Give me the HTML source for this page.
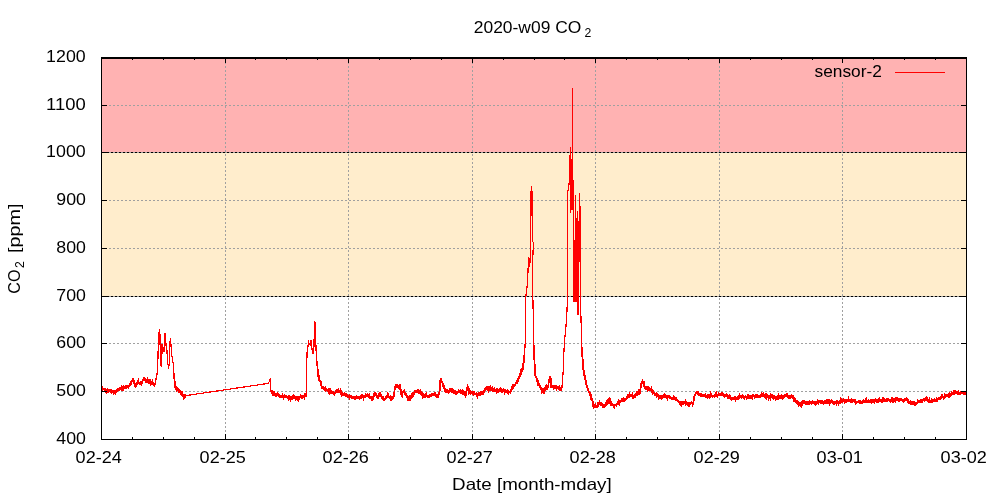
<!DOCTYPE html>
<html><head><meta charset="utf-8"><title>2020-w09 CO2</title>
<style>html,body{margin:0;padding:0;background:#fff;width:1000px;height:500px;overflow:hidden}svg{display:block;will-change:transform}</style>
</head><body>
<svg width="1000" height="500" viewBox="0 0 1000 500"><rect x="101" y="57" width="866" height="96" fill="#ffb2b2"/><rect x="101" y="153" width="866" height="143" fill="#ffedcc"/><g stroke="#a0a0a0" stroke-width="1" stroke-dasharray="2,2" shape-rendering="crispEdges"><line x1="109" y1="105.5" x2="959" y2="105.5"/><line x1="109" y1="152.5" x2="959" y2="152.5"/><line x1="109" y1="200.5" x2="959" y2="200.5"/><line x1="109" y1="248.5" x2="959" y2="248.5"/><line x1="109" y1="296.5" x2="959" y2="296.5"/><line x1="109" y1="343.5" x2="959" y2="343.5"/><line x1="109" y1="391.5" x2="959" y2="391.5"/><line x1="225.5" y1="62" x2="225.5" y2="432"/><line x1="348.5" y1="62" x2="348.5" y2="432"/><line x1="472.5" y1="62" x2="472.5" y2="432"/><line x1="595.5" y1="62" x2="595.5" y2="432"/><line x1="719.5" y1="62" x2="719.5" y2="432"/><line x1="842.5" y1="82" x2="842.5" y2="432"/></g><g stroke="#000" stroke-width="1" stroke-dasharray="2,2" shape-rendering="crispEdges"><line x1="107" y1="152.5" x2="961" y2="152.5"/><line x1="107" y1="296.5" x2="961" y2="296.5"/></g><polyline fill="none" stroke="#ff0000" stroke-width="1.8" stroke-linejoin="miter" shape-rendering="crispEdges" points="101.50,388.17 101.80,387.73 102.10,389.71 102.40,387.81 102.70,389.66 103.00,389.23 103.30,388.30 103.60,390.10 103.90,388.59 104.20,390.20 104.50,389.06 104.80,389.29 105.10,390.64 105.40,392.25 105.70,389.87 106.00,390.39 106.30,392.00 106.60,393.30 106.90,392.13 107.20,391.42 107.50,393.36 107.80,389.85 108.10,392.62 108.40,390.42 108.70,389.74 109.00,389.49 109.30,390.02 109.60,391.69 109.90,389.45 110.20,391.05 110.50,391.41 110.80,390.61 111.10,391.40 111.40,389.81 111.70,389.95 112.00,390.63 112.30,392.50 112.60,391.61 112.90,391.16 113.20,392.10 113.50,391.58 113.80,390.98 114.10,392.72 114.40,392.34 114.70,390.66 115.00,391.81 115.30,391.59 115.60,392.81 115.90,392.24 116.20,390.49 116.50,392.75 116.80,389.43 117.10,390.28 117.40,391.28 117.70,388.87 118.00,389.86 118.30,388.02 118.60,390.06 118.90,390.18 119.20,389.26 119.50,390.13 119.80,387.96 120.10,389.22 120.40,388.75 120.70,388.59 121.00,388.04 121.30,389.31 121.60,389.58 121.90,387.78 122.20,388.35 122.50,386.07 122.80,388.27 123.10,387.97 123.40,389.20 123.70,388.61 124.00,386.71 124.30,387.11 124.60,388.16 124.90,385.87 125.20,387.48 125.50,386.46 125.80,386.31 126.10,386.13 126.40,388.72 126.70,386.45 127.00,386.66 127.30,386.83 127.60,388.22 127.90,385.03 128.20,386.01 128.50,386.03 128.80,386.88 129.10,386.31 129.40,386.13 129.70,383.67 130.00,383.80 130.30,383.24 130.60,384.78 130.90,384.69 131.20,381.43 131.50,381.16 131.80,381.01 132.10,380.66 132.40,381.26 132.70,381.36 133.00,379.90 133.30,378.69 133.60,379.91 133.90,380.76 134.20,382.51 134.50,384.93 134.80,384.89 135.10,385.16 135.40,386.42 135.70,386.09 136.00,383.30 136.30,385.80 136.60,384.83 136.90,384.62 137.20,383.80 137.50,381.79 137.80,381.94 138.10,381.32 138.40,383.68 138.70,382.07 139.00,382.54 139.30,383.50 139.60,383.35 139.90,383.79 140.20,382.56 140.50,382.17 140.80,382.51 141.10,382.13 141.40,382.88 141.70,381.46 142.00,384.31 142.30,382.80 142.60,380.35 142.90,379.96 143.20,379.53 143.50,378.82 143.80,377.18 144.10,379.03 144.40,378.78 144.70,378.68 145.00,380.54 145.30,380.91 145.60,380.80 145.90,381.50 146.20,381.05 146.50,382.91 146.80,380.34 147.10,379.67 147.40,382.84 147.70,381.15 148.00,379.61 148.30,380.87 148.60,378.94 148.90,380.89 149.20,382.65 149.50,382.37 149.80,381.91 150.10,380.64 150.40,381.62 150.70,381.50 151.00,384.28 151.30,384.02 151.60,385.15 151.90,383.07 152.20,382.23 152.50,383.89 152.80,384.05 153.10,383.47 153.40,383.90 153.70,384.55 154.00,384.86 154.30,383.62 154.60,385.09 154.90,384.59 155.20,383.50 155.50,383.57 155.60,385.30"/><polyline fill="none" stroke="#ff0000" stroke-width="1.8" stroke-linejoin="miter" shape-rendering="crispEdges" points="174.00,374.50 174.30,377.21 174.60,380.66 174.90,384.10 175.20,386.11 175.50,385.34 175.80,388.16 176.10,389.40 176.40,389.84 176.70,388.01 177.00,387.79 177.30,388.12 177.60,388.31 177.90,388.63 178.20,390.42 178.50,391.71 178.80,391.78 179.10,390.77 179.40,391.68 179.70,392.49 180.00,390.21 180.30,392.69 180.60,393.99 180.90,393.94 181.20,394.24 181.50,393.67 181.80,393.00 182.10,395.60 182.40,394.27 182.70,396.22 183.00,397.09 183.30,395.28 183.60,395.56 183.90,397.79 184.20,397.25 184.50,395.51 184.80,395.30 185.10,395.32 185.40,397.98 185.50,396.50"/><polyline fill="none" stroke="#ff0000" stroke-width="1.8" stroke-linejoin="miter" shape-rendering="crispEdges" points="271.00,391.80 271.50,392.10 271.80,390.09 272.10,392.90 272.40,393.81 272.70,393.01 273.00,392.26 273.30,393.34 273.60,392.19 273.90,392.13 274.20,395.77 274.50,394.73 274.80,394.40 275.10,395.97 275.40,394.29 275.70,395.98 276.00,395.92 276.30,393.82 276.60,394.08 276.90,394.34 277.20,394.27 277.50,395.62 277.80,394.56 278.10,395.25 278.40,394.32 278.70,397.24 279.00,395.35 279.30,395.84 279.60,396.40 279.90,397.67 280.20,396.04 280.50,397.94 280.80,396.56 281.10,396.78 281.40,396.86 281.70,395.15 282.00,396.78 282.30,395.86 282.60,395.21 282.90,398.08 283.20,395.82 283.50,396.90 283.80,397.81 284.10,397.20 284.40,396.37 284.70,397.07 285.00,397.20 285.30,398.02 285.60,395.58 285.90,397.22 286.20,396.09 286.50,396.20 286.80,397.98 287.10,397.03 287.40,397.22 287.70,397.94 288.00,398.48 288.30,396.80 288.60,397.41 288.90,397.02 289.20,397.04 289.50,397.69 289.80,396.83 290.10,397.14 290.40,396.99 290.70,398.71 291.00,397.88 291.30,398.57 291.60,398.86 291.90,396.45 292.20,397.58 292.50,399.01 292.80,398.69 293.10,396.21 293.40,396.20 293.70,397.41 294.00,396.13 294.30,396.78 294.60,396.23 294.90,398.43 295.20,398.89 295.50,399.35 295.80,396.72 296.10,398.76 296.40,398.50 296.70,396.57 297.00,399.18 297.30,399.42 297.60,396.67 297.90,399.25 298.20,397.19 298.50,397.45 298.80,399.20 299.10,398.58 299.40,396.10 299.70,397.01 300.00,397.26 300.30,396.56 300.60,395.98 300.90,396.37 301.20,397.76 301.50,395.17 301.80,397.03 302.10,396.57 302.40,394.99 302.70,396.05 303.00,397.05 303.30,396.58 303.60,394.91 303.90,398.17 304.20,397.40 304.50,398.01 304.80,394.84 305.10,395.36 305.40,394.50 305.70,397.11 306.00,395.23 306.30,396.00"/><polyline fill="none" stroke="#ff0000" stroke-width="1.8" stroke-linejoin="miter" shape-rendering="crispEdges" points="317.00,362.00 317.30,364.67 317.60,369.15 317.90,374.34 318.20,375.95 318.50,375.13 318.80,375.94 319.10,379.91 319.40,379.85 319.70,381.52 320.00,380.52 320.30,381.16 320.60,384.18 320.90,383.98 321.20,383.46 321.50,387.33 321.80,386.98 322.10,388.16 322.40,385.80 322.70,388.81 323.00,386.19 323.30,389.28 323.60,388.03 323.90,387.85 324.20,388.84 324.50,390.41 324.80,388.26 325.10,387.99 325.40,389.65 325.70,388.83 326.00,388.59 326.30,388.93 326.60,388.68 326.90,389.38 327.20,389.92 327.50,390.05 327.80,391.83 328.10,390.29 328.40,391.20 328.70,390.19 329.00,390.95 329.30,389.92 329.60,390.90 329.90,390.21 330.20,392.89 330.50,392.31 330.80,391.08 331.10,392.18 331.40,393.91 331.70,391.01 332.00,393.65 332.30,392.33 332.60,392.63 332.90,393.93 333.20,392.42 333.50,392.90 333.80,393.63 334.10,394.70 334.40,392.27 334.70,393.92 335.00,393.34 335.30,392.97 335.60,392.02 335.90,391.69 336.20,390.52 336.50,390.67 336.80,390.33 337.10,392.63 337.40,390.76 337.70,390.31 338.00,389.90 338.30,392.51 338.60,392.49 338.90,391.65 339.20,390.41 339.50,390.57 339.80,391.06 340.10,391.95 340.40,391.17 340.70,392.50 341.00,392.15 341.30,394.96 341.60,395.30 341.90,394.07 342.20,393.18 342.50,395.93 342.80,393.71 343.10,394.03 343.40,392.90 343.70,394.42 344.00,394.91 344.30,395.16 344.60,394.22 344.90,395.47 345.20,393.82 345.50,394.90 345.80,394.42 346.10,395.64 346.40,394.35 346.70,394.28 347.00,395.30 347.30,395.04 347.60,396.31 347.90,396.11 348.20,396.90 348.50,396.57 348.80,396.78 349.10,397.36 349.40,395.60 349.70,395.37 350.00,397.75 350.30,394.84 350.60,397.01 350.90,396.82 351.20,394.76 351.50,397.71 351.80,398.01 352.10,397.16 352.40,397.64 352.70,398.02 353.00,395.70 353.30,397.19 353.60,397.22 353.90,398.51 354.20,398.50 354.50,398.68 354.80,397.90 355.10,399.11 355.40,398.46 355.70,398.60 356.00,397.03 356.30,396.26 356.60,396.58 356.90,397.35 357.20,396.38 357.50,398.96 357.80,397.91 358.10,398.11 358.40,398.05 358.70,398.20 359.00,397.46 359.30,395.66 359.60,398.47 359.90,398.24 360.20,397.31 360.50,397.38 360.80,397.77 361.10,395.59 361.40,397.95 361.70,396.16 362.00,395.47 362.30,396.11 362.60,397.73 362.90,395.79 363.20,397.66 363.50,398.46 363.80,396.68 364.10,396.23 364.40,396.52 364.70,397.21 365.00,397.46 365.30,396.87 365.60,396.91 365.90,394.83 366.20,395.03 366.50,395.36 366.80,397.08 367.10,395.45 367.40,396.34 367.70,394.29 368.00,394.42 368.30,395.36 368.60,397.01 368.90,397.28 369.20,397.41 369.50,396.22 369.80,397.23 370.10,397.24 370.40,397.44 370.70,396.38 371.00,399.37 371.30,397.06 371.60,400.06 371.90,400.11 372.20,396.56 372.50,397.70 372.80,398.55 373.10,398.64 373.40,396.32 373.70,395.22 374.00,394.56 374.30,396.75 374.60,393.66 374.90,394.54 375.20,392.51 375.50,393.44 375.80,395.18 376.10,392.75 376.40,395.75 376.70,395.16 377.00,397.04 377.30,396.91 377.60,395.73 377.90,398.66 378.20,397.02 378.50,394.86 378.80,394.28 379.10,395.54 379.40,394.89 379.70,393.85 380.00,393.33 380.30,394.40 380.60,394.64 380.90,396.86 381.20,394.18 381.50,397.22 381.80,397.87 382.10,395.62 382.40,398.86 382.70,398.43 383.00,399.45 383.30,397.58 383.60,398.21 383.90,398.63 384.20,401.15 384.50,400.01 384.80,399.03 385.10,398.87 385.40,397.92 385.70,396.71 386.00,396.50 386.30,398.74 386.60,396.36 386.90,398.30 387.20,395.43 387.50,395.09 387.80,395.57 388.10,394.02 388.40,394.74 388.70,397.14 389.00,397.18 389.30,397.22 389.60,396.87 389.90,398.19 390.20,398.59 390.50,397.48 390.80,398.39 391.10,396.28 391.40,399.04 391.70,398.32 392.00,399.71 392.30,399.62 392.60,398.03 392.90,396.58 393.20,399.14 393.50,395.66 393.80,396.30 394.10,395.24 394.40,392.07 394.70,389.46 395.00,388.85 395.30,386.17 395.60,387.49 395.90,386.12 396.20,386.94 396.50,386.25 396.80,385.34 397.10,385.22 397.40,385.28 397.70,387.69 398.00,386.12 398.30,385.03 398.60,387.60 398.90,388.12 399.20,386.35 399.50,385.44 399.80,385.83 400.10,385.66 400.40,388.13 400.70,389.48 401.00,392.26 401.30,394.58 401.60,395.92 401.90,396.26 402.20,394.97 402.50,392.95 402.80,392.16 403.10,391.75 403.40,391.21 403.70,391.44 404.00,390.82 404.30,391.97 404.60,394.83 404.90,392.18 405.20,393.91 405.50,394.74 405.80,396.11 406.10,394.38 406.40,395.18 406.70,395.69 407.00,396.84 407.30,397.61 407.60,400.03 407.90,400.26 408.20,400.34 408.50,396.98 408.80,396.72 409.10,398.85 409.40,399.22 409.70,397.40 410.00,397.51 410.30,395.10 410.60,396.21 410.90,397.84 411.20,397.17 411.50,396.98 411.80,397.07 412.10,394.11 412.40,393.26 412.70,393.07 413.00,394.05 413.30,394.27 413.60,394.86 413.90,393.71 414.20,393.10 414.50,393.17 414.80,391.71 415.10,391.70 415.40,389.77 415.70,392.48 416.00,390.54 416.30,393.05 416.60,392.10 416.90,390.91 417.20,390.31 417.50,390.79 417.80,392.22 418.10,392.48 418.40,390.40 418.70,390.29 419.00,391.96 419.30,392.21 419.60,391.55 419.90,390.99 420.20,392.56 420.50,390.74 420.80,392.09 421.10,392.96 421.40,395.05 421.70,394.22 422.00,395.38 422.30,394.21 422.60,393.65 422.90,393.99 423.20,396.86 423.50,396.24 423.80,394.93 424.10,393.93 424.40,395.67 424.70,396.34 425.00,395.45 425.30,394.90 425.60,396.40 425.90,397.36 426.20,394.88 426.50,394.21 426.80,395.34 427.10,395.66 427.40,396.64 427.70,394.92 428.00,397.11 428.30,396.93 428.60,396.12 428.90,395.07 429.20,397.85 429.50,395.51 429.80,397.25 430.10,394.98 430.40,394.80 430.70,396.59 431.00,394.76 431.30,396.98 431.60,395.18 431.90,393.92 432.20,393.90 432.50,394.45 432.80,395.20 433.10,396.07 433.40,393.03 433.70,393.77 434.00,392.97 434.30,395.56 434.60,392.64 434.90,392.52 435.20,392.75 435.50,394.15 435.80,396.17 436.10,396.31 436.40,395.97 436.70,397.12 437.00,397.09 437.30,395.12 437.60,394.80 437.90,397.70 438.20,396.55 438.50,393.18 438.80,394.66 439.10,392.83 439.40,392.01 439.70,391.06 440.00,387.06 440.30,381.74 440.60,378.01 440.90,378.92 441.20,381.75 441.50,379.41 441.80,383.09 442.10,381.02 442.40,382.21 442.70,384.54 443.00,385.36 443.30,384.86 443.60,384.38 443.90,386.80 444.20,387.34 444.50,390.21 444.80,388.49 445.10,390.01 445.40,392.33 445.70,389.36 446.00,390.88 446.30,392.47 446.60,392.46 446.90,390.00 447.20,390.13 447.50,390.38 447.80,393.38 448.10,390.79 448.40,392.36 448.70,392.70 449.00,390.49 449.30,390.05 449.60,392.31 449.90,390.89 450.20,389.41 450.50,390.85 450.80,389.21 451.10,388.86 451.40,387.94 451.70,390.83 452.00,391.60 452.30,390.77 452.60,392.07 452.90,388.95 453.20,389.89 453.50,390.95 453.80,392.87 454.10,393.05 454.40,391.19 454.70,390.89 455.00,391.72 455.30,392.14 455.60,393.89 455.90,391.40 456.20,393.65 456.50,393.36 456.80,393.60 457.10,393.36 457.40,392.71 457.70,391.64 458.00,391.55 458.30,391.64 458.60,393.10 458.90,390.50 459.20,390.87 459.50,392.81 459.80,390.93 460.10,390.21 460.40,390.04 460.70,391.85 461.00,390.97 461.30,393.27 461.60,392.86 461.90,393.18 462.20,390.75 462.50,390.40 462.80,390.75 463.10,392.49 463.40,393.56 463.70,392.91 464.00,392.44 464.30,393.40 464.60,394.43 464.90,394.93 465.20,395.49 465.50,396.15 465.80,394.73 466.10,391.47 466.40,392.76 466.70,389.49 467.00,389.17 467.30,387.18 467.60,388.38 467.90,386.92 468.20,387.57 468.50,388.04 468.80,388.19 469.10,391.30 469.40,390.68 469.70,390.25 470.00,390.99 470.30,393.61 470.60,392.08 470.90,391.16 471.20,393.31 471.50,392.83 471.80,394.12 472.10,390.99 472.40,392.41 472.70,393.72 473.00,393.88 473.30,394.22 473.60,391.15 473.90,392.13 474.20,391.58 474.50,391.91 474.80,394.80 475.10,393.47 475.40,394.90 475.70,393.13 476.00,395.14 476.30,393.87 476.60,393.42 476.90,395.52 477.20,396.19 477.50,393.15 477.80,394.89 478.10,394.96 478.40,393.49 478.70,394.01 479.00,393.18 479.30,393.38 479.60,393.54 479.90,394.76 480.20,394.91 480.50,393.24 480.80,392.49 481.10,393.57 481.40,394.77 481.70,392.94 482.00,393.34 482.30,392.89 482.60,394.96 482.90,393.62 483.20,391.43 483.50,391.11 483.80,391.72 484.10,391.83 484.40,391.70 484.70,389.28 485.00,389.09 485.30,390.55 485.60,389.08 485.90,388.17 486.20,387.81 486.50,389.68 486.80,386.92 487.10,387.99 487.40,387.39 487.70,387.75 488.00,389.51 488.30,390.14 488.60,388.01 488.90,387.56 489.20,389.62 489.50,387.88 489.80,387.32 490.10,390.70 490.40,389.13 490.70,390.70 491.00,389.36 491.30,391.11 491.60,389.62 491.90,388.58 492.20,388.07 492.50,390.04 492.80,390.39 493.10,391.39 493.40,388.46 493.70,390.41 494.00,389.54 494.30,390.05 494.60,388.79 494.90,389.31 495.20,390.20 495.50,391.68 495.80,388.77 496.10,390.18 496.40,391.34 496.70,391.95 497.00,389.21 497.30,388.99 497.60,391.96 497.90,392.10 498.20,390.36 498.50,388.84 498.80,392.01 499.10,390.11 499.40,392.00 499.70,391.00 500.00,391.77 500.30,389.41 500.60,391.69 500.90,389.69 501.20,390.38 501.50,392.00 501.80,391.97 502.10,389.67 502.40,389.83 502.70,390.51 503.00,390.96 503.30,390.51 503.60,389.60 503.90,390.08 504.20,391.83 504.50,392.48 504.80,389.43 505.10,391.35 505.40,392.14 505.70,389.64 506.00,392.60 506.30,390.10 506.60,391.92 506.90,391.82 507.20,392.19 507.50,391.12 507.80,391.61 508.10,392.28 508.40,391.80 508.70,392.73 509.00,392.05 509.30,392.11 509.60,390.70 509.90,392.93 510.20,391.86 510.50,390.35 510.80,391.65 511.10,391.11 511.40,389.35 511.70,387.75 512.00,388.20 512.30,386.54 512.60,386.26 512.90,387.00 513.20,385.43 513.50,386.34 513.80,386.24 514.10,384.20 514.40,385.99 514.70,383.65 515.00,385.64 515.30,385.45 515.60,384.14 515.90,382.15 516.20,383.41 516.50,382.21 516.80,383.52 517.10,379.84 517.40,381.69 517.70,381.44 518.00,379.74 518.30,379.28 518.60,376.30 518.90,378.38 519.20,375.97 519.50,377.04 519.80,376.30 520.10,372.99 520.40,374.64 520.70,374.55 521.00,370.84 521.30,371.26 521.60,372.12 521.90,369.12 522.20,370.43 522.50,366.84 522.80,367.44 523.10,363.67 523.40,363.01 523.70,362.26 524.00,357.45 524.30,355.40 524.60,354.00"/><polyline fill="none" stroke="#ff0000" stroke-width="1.8" stroke-linejoin="miter" shape-rendering="crispEdges" points="533.90,345.00 533.90,348.02 534.20,357.35 534.50,361.53 534.80,367.26 535.10,372.38 535.40,376.17 535.70,376.25 536.00,378.02 536.30,376.41 536.60,379.63 536.90,378.21 537.20,380.71 537.50,381.69 537.80,381.30 538.10,383.74 538.40,383.20 538.70,383.89 539.00,385.58 539.30,383.38 539.60,387.17 539.90,386.47 540.20,386.18 540.50,388.17 540.80,386.79 541.10,389.95 541.40,389.00 541.70,388.76 542.00,390.75 542.30,390.13 542.60,389.72 542.90,392.30 543.20,390.33 543.50,393.65 543.80,390.94 544.10,391.65 544.40,392.22 544.70,390.11 545.00,389.71 545.30,387.78 545.60,385.98 545.90,385.42 546.20,385.16 546.50,387.02 546.80,386.96 547.10,387.85 547.40,389.82 547.70,387.68 548.00,386.52 548.30,386.55 548.60,382.78 548.90,381.21 549.20,381.03 549.50,378.78 549.80,378.34 550.10,376.51 550.40,376.45 550.70,378.82 551.00,381.64 551.30,386.02 551.60,385.71 551.90,384.71 552.20,387.82 552.50,385.55 552.80,385.44 553.10,385.47 553.40,387.65 553.70,388.71 554.00,388.62 554.30,387.16 554.60,386.57 554.90,385.57 555.20,387.76 555.50,387.37 555.80,386.52 556.10,387.55 556.40,386.91 556.70,388.76 557.00,388.11 557.30,386.45 557.60,388.89 557.90,385.88 558.20,387.71 558.50,387.49 558.80,387.12 559.10,386.71 559.40,389.54 559.70,387.01 560.00,389.18 560.30,390.59 560.60,387.71 560.90,387.92 561.20,388.79 561.50,387.53 561.80,387.11 562.00,386.00"/><polyline fill="none" stroke="#ff0000" stroke-width="1.8" stroke-linejoin="miter" shape-rendering="crispEdges" points="582.00,350.00 582.40,357.13 582.70,360.08 583.00,365.81 583.30,369.68 583.60,369.97 583.90,374.20 584.20,375.02 584.50,375.98 584.80,374.62 585.10,378.84 585.40,380.08 585.70,380.87 586.00,383.67 586.30,384.43 586.60,385.41 586.90,386.34 587.20,387.28 587.50,387.06 587.80,388.61 588.10,390.58 588.40,390.86 588.70,391.88 589.00,391.88 589.30,390.76 589.60,392.27 589.90,392.50 590.20,394.77 590.50,394.82 590.80,394.89 591.10,397.24 591.40,399.41 591.70,397.78 592.00,401.37 592.30,399.45 592.60,401.54 592.90,402.65 593.20,405.68 593.50,407.23 593.80,406.59 594.10,405.15 594.40,407.22 594.70,405.31 595.00,405.06 595.30,407.54 595.60,406.62 595.90,406.81 596.20,406.46 596.50,407.34 596.80,405.26 597.10,406.34 597.40,405.58 597.70,405.90 598.00,404.14 598.30,404.93 598.60,404.12 598.90,402.92 599.20,402.33 599.50,403.72 599.80,402.01 600.10,405.26 600.40,402.75 600.70,402.58 601.00,403.12 601.30,406.33 601.60,404.47 601.90,403.99 602.20,403.84 602.50,404.13 602.80,406.73 603.10,406.62 603.40,406.64 603.70,406.59 604.00,403.97 604.30,405.66 604.60,404.64 604.90,406.04 605.20,405.75 605.50,405.71 605.80,402.44 606.10,405.02 606.40,404.89 606.70,404.70 607.00,401.39 607.30,401.44 607.60,400.80 607.90,400.12 608.20,402.45 608.50,401.72 608.80,400.48 609.10,400.57 609.40,399.27 609.70,398.73 610.00,401.36 610.30,403.56 610.60,405.98 610.90,404.03 611.20,404.47 611.50,404.89 611.80,403.48 612.10,404.36 612.40,404.49 612.70,406.09 613.00,404.87 613.30,404.74 613.60,407.10 613.90,405.48 614.20,406.76 614.50,405.96 614.80,403.89 615.10,405.20 615.40,405.04 615.70,406.00 616.00,404.22 616.30,405.25 616.60,404.40 616.90,403.00 617.20,405.07 617.50,402.04 617.80,404.42 618.10,401.83 618.40,400.97 618.70,401.46 619.00,403.29 619.30,403.88 619.60,400.19 619.90,401.75 620.20,401.57 620.50,402.48 620.80,400.09 621.10,401.02 621.40,400.30 621.70,401.86 622.00,399.61 622.30,401.89 622.60,399.32 622.90,398.89 623.20,400.44 623.50,399.57 623.80,398.10 624.10,399.92 624.40,397.84 624.70,400.31 625.00,399.91 625.30,400.16 625.60,399.51 625.90,398.38 626.20,398.24 626.50,397.92 626.80,399.41 627.10,396.21 627.40,398.80 627.70,395.39 628.00,395.74 628.30,395.65 628.60,397.64 628.90,395.90 629.20,395.17 629.50,396.80 629.80,394.51 630.10,395.38 630.40,395.68 630.70,396.53 631.00,396.58 631.30,396.24 631.60,395.22 631.90,395.19 632.20,394.63 632.50,397.15 632.80,396.55 633.10,396.87 633.40,394.81 633.70,395.78 634.00,396.98 634.30,396.29 634.60,394.65 634.90,395.86 635.20,397.39 635.50,394.91 635.80,394.29 636.10,394.24 636.40,395.23 636.70,395.29 637.00,392.36 637.30,391.91 637.60,391.79 637.90,391.80 638.20,392.58 638.50,391.35 638.80,392.03 639.10,391.61 639.40,394.51 639.70,393.70 640.00,391.52 640.30,393.71 640.60,387.77 640.90,385.93 641.20,385.24 641.50,382.76 641.80,382.84 642.10,382.07 642.40,381.51 642.70,383.40 643.00,381.78 643.30,382.58 643.60,383.93 643.90,383.36 644.20,385.37 644.50,387.48 644.80,387.83 645.10,387.62 645.40,388.14 645.70,387.58 646.00,386.48 646.30,388.19 646.60,387.52 646.90,388.78 647.20,389.44 647.50,387.76 647.80,388.33 648.10,389.01 648.40,387.88 648.70,387.24 649.00,389.08 649.30,389.71 649.60,389.39 649.90,389.18 650.20,389.79 650.50,389.23 650.80,389.15 651.10,388.53 651.40,388.09 651.70,389.61 652.00,388.75 652.30,390.96 652.60,393.32 652.90,393.81 653.20,393.64 653.50,392.40 653.80,393.15 654.10,393.40 654.40,394.12 654.70,393.49 655.00,394.57 655.30,395.62 655.60,393.06 655.90,394.88 656.20,395.46 656.50,394.19 656.80,394.68 657.10,396.58 657.40,393.40 657.70,395.42 658.00,394.25 658.30,396.68 658.60,397.45 658.90,396.14 659.20,394.83 659.50,396.74 659.80,396.81 660.10,397.65 660.40,397.11 660.70,397.68 661.00,398.28 661.30,397.10 661.60,396.63 661.90,398.49 662.20,395.76 662.50,397.39 662.80,396.26 663.10,397.52 663.40,395.14 663.70,398.17 664.00,395.83 664.30,394.68 664.60,395.39 664.90,395.76 665.20,394.30 665.50,395.74 665.80,395.85 666.10,396.95 666.40,395.80 666.70,395.59 667.00,395.54 667.30,397.50 667.60,398.32 667.90,396.93 668.20,395.92 668.50,398.12 668.80,396.74 669.10,396.19 669.40,395.97 669.70,398.37 670.00,398.56 670.30,398.01 670.60,397.49 670.90,397.90 671.20,396.76 671.50,399.49 671.80,397.37 672.10,398.47 672.40,399.20 672.70,399.26 673.00,398.09 673.30,397.53 673.60,398.52 673.90,397.12 674.20,399.87 674.50,398.34 674.80,400.33 675.10,398.43 675.40,399.02 675.70,398.78 676.00,399.60 676.30,398.94 676.60,398.48 676.90,401.27 677.20,399.88 677.50,399.95 677.80,400.35 678.10,401.19 678.40,401.21 678.70,402.16 679.00,402.44 679.30,401.57 679.60,403.81 679.90,403.74 680.20,401.07 680.50,404.05 680.80,404.53 681.10,404.22 681.40,401.91 681.70,404.39 682.00,403.68 682.30,401.45 682.60,401.44 682.90,404.83 683.20,403.76 683.50,402.30 683.80,401.77 684.10,401.91 684.40,402.24 684.70,404.19 685.00,402.65 685.30,401.95 685.60,404.65 685.90,404.25 686.20,402.00 686.50,404.61 686.80,403.59 687.10,404.23 687.40,403.89 687.70,404.76 688.00,404.44 688.30,404.68 688.60,402.43 688.90,404.27 689.20,403.75 689.50,404.57 689.80,403.54 690.10,405.20 690.40,404.08 690.70,403.09 691.00,403.04 691.30,402.76 691.60,404.10 691.90,402.59 692.20,404.12 692.50,403.02 692.80,404.33 693.10,403.69 693.40,401.74 693.70,400.81 694.00,395.62 694.30,397.08 694.60,395.28 694.90,395.18 695.20,395.10 695.50,395.28 695.80,393.15 696.10,392.86 696.40,394.36 696.70,390.94 697.00,393.16 697.30,393.36 697.60,391.37 697.90,393.66 698.20,394.12 698.50,395.22 698.80,393.26 699.10,395.80 699.40,394.30 699.70,394.41 700.00,396.10 700.30,393.14 700.60,395.67 700.90,395.40 701.20,394.43 701.50,396.37 701.80,394.65 702.10,395.10 702.40,395.35 702.70,396.29 703.00,394.34 703.30,395.21 703.60,395.22 703.90,395.76 704.20,396.80 704.50,394.94 704.80,396.93 705.10,395.47 705.40,395.89 705.70,395.12 706.00,396.02 706.30,397.68 706.60,396.50 706.90,396.96 707.20,395.27 707.50,395.19 707.80,395.10 708.10,396.10 708.40,396.25 708.70,396.75 709.00,394.04 709.30,396.47 709.60,397.03 709.90,395.77 710.20,393.96 710.50,394.83 710.80,393.74 711.10,394.37 711.40,396.98 711.70,395.82 712.00,395.97 712.30,396.38 712.60,396.75 712.90,395.61 713.20,395.57 713.50,395.54 713.80,395.73 714.10,395.31 714.40,395.55 714.70,393.80 715.00,395.38 715.30,394.56 715.60,395.60 715.90,393.15 716.20,393.38 716.50,392.80 716.80,395.39 717.10,395.90 717.40,394.98 717.70,393.96 718.00,395.60 718.30,395.48 718.60,394.68 718.90,393.60 719.20,393.77 719.50,394.21 719.80,393.85 720.10,394.26 720.40,395.03 720.70,396.09 721.00,392.94 721.30,394.79 721.60,392.90 721.90,393.20 722.20,395.70 722.50,394.86 722.80,396.11 723.10,394.52 723.40,393.08 723.70,394.54 724.00,395.40 724.30,396.76 724.60,397.03 724.90,395.33 725.20,395.22 725.50,394.22 725.80,396.29 726.10,394.85 726.40,394.75 726.70,394.41 727.00,394.52 727.30,397.11 727.60,395.24 727.90,398.43 728.20,395.42 728.50,398.38 728.80,395.86 729.10,395.61 729.40,398.29 729.70,396.72 730.00,398.64 730.30,396.82 730.60,396.48 730.90,399.24 731.20,399.17 731.50,399.68 731.80,399.23 732.10,396.90 732.40,398.86 732.70,399.15 733.00,398.26 733.30,399.96 733.60,397.51 733.90,400.07 734.20,399.18 734.50,396.64 734.80,396.65 735.10,398.94 735.40,399.54 735.70,396.89 736.00,397.72 736.30,399.23 736.60,397.20 736.90,399.70 737.20,398.35 737.50,396.62 737.80,397.52 738.10,398.07 738.40,397.38 738.70,398.04 739.00,395.92 739.30,398.07 739.60,396.31 739.90,397.12 740.20,396.87 740.50,395.90 740.80,395.59 741.10,397.08 741.40,397.70 741.70,397.17 742.00,396.44 742.30,395.50 742.60,394.72 742.90,398.06 743.20,397.13 743.50,397.63 743.80,395.90 744.10,396.93 744.40,398.32 744.70,397.84 745.00,397.06 745.30,396.06 745.60,396.54 745.90,398.25 746.20,396.46 746.50,397.62 746.80,397.37 747.10,398.48 747.40,398.21 747.70,396.37 748.00,395.41 748.30,396.27 748.60,396.77 748.90,397.29 749.20,398.04 749.50,398.22 749.80,395.10 750.10,397.87 750.40,397.72 750.70,397.85 751.00,396.71 751.30,395.56 751.60,397.56 751.90,397.33 752.20,396.81 752.50,397.56 752.80,395.45 753.10,394.51 753.40,396.19 753.70,397.07 754.00,394.92 754.30,396.90 754.60,397.55 754.90,395.04 755.20,396.38 755.50,396.64 755.80,395.88 756.10,394.94 756.40,395.12 756.70,396.90 757.00,397.05 757.30,395.85 757.60,394.52 757.90,397.07 758.20,396.90 758.50,394.93 758.80,396.14 759.10,397.24 759.40,397.16 759.70,395.82 760.00,395.62 760.30,395.98 760.60,394.51 760.90,394.48 761.20,394.40 761.50,396.24 761.80,394.98 762.10,395.67 762.40,395.05 762.70,395.50 763.00,394.21 763.30,393.87 763.60,397.34 763.90,395.13 764.20,394.21 764.50,396.14 764.80,396.73 765.10,394.50 765.40,396.12 765.70,395.25 766.00,395.92 766.30,394.16 766.60,394.25 766.90,397.73 767.20,397.32 767.50,395.99 767.80,396.32 768.10,395.25 768.40,397.16 768.70,395.92 769.00,397.83 769.30,397.22 769.60,397.45 769.90,398.01 770.20,395.49 770.50,394.75 770.80,395.37 771.10,395.34 771.40,395.03 771.70,394.95 772.00,396.81 772.30,397.97 772.60,396.52 772.90,398.32 773.20,398.23 773.50,395.22 773.80,397.18 774.10,396.49 774.40,395.53 774.70,398.59 775.00,396.10 775.30,397.24 775.60,397.56 775.90,398.73 776.20,397.74 776.50,396.78 776.80,397.01 777.10,395.95 777.40,398.83 777.70,398.90 778.00,396.10 778.30,395.41 778.60,396.17 778.90,396.49 779.20,398.45 779.50,398.43 779.80,398.16 780.10,395.29 780.40,397.93 780.70,397.63 781.00,397.38 781.30,398.57 781.60,395.20 781.90,395.50 782.20,397.67 782.50,398.31 782.80,397.34 783.10,395.95 783.40,396.98 783.70,397.55 784.00,395.18 784.30,395.95 784.60,395.68 784.90,395.18 785.20,396.45 785.50,395.30 785.80,395.53 786.10,395.17 786.40,397.07 786.70,394.66 787.00,397.17 787.30,395.27 787.60,394.68 787.90,397.87 788.20,395.30 788.50,397.85 788.80,397.59 789.10,397.64 789.40,394.93 789.70,396.01 790.00,394.73 790.30,397.70 790.60,397.37 790.90,396.58 791.20,395.93 791.50,395.50 791.80,397.22 792.10,395.95 792.40,396.48 792.70,395.21 793.00,397.00 793.30,397.90 793.60,400.97 793.90,400.69 794.20,399.52 794.50,402.31 794.80,400.30 795.10,401.00 795.40,400.25 795.70,400.83 796.00,403.05 796.30,401.40 796.60,400.98 796.90,402.31 797.20,401.86 797.50,404.14 797.80,401.47 798.10,404.75 798.40,401.60 798.70,404.80 799.00,404.17 799.30,402.70 799.60,403.84 799.90,403.33 800.20,403.41 800.50,403.39 800.80,404.15 801.10,406.59 801.40,406.79 801.70,405.93 802.00,402.35 802.30,402.44 802.60,404.03 802.90,400.41 803.20,402.22 803.50,400.96 803.80,403.72 804.10,400.56 804.40,403.71 804.70,402.33 805.00,401.90 805.30,401.71 805.60,405.00 805.90,403.82 806.20,402.52 806.50,403.34 806.80,404.98 807.10,402.41 807.40,403.61 807.70,401.97 808.00,402.05 808.30,404.10 808.60,403.81 808.90,401.88 809.20,401.39 809.50,401.34 809.80,403.14 810.10,402.66 810.40,401.79 810.70,401.58 811.00,403.08 811.30,403.46 811.60,403.87 811.90,403.09 812.20,401.75 812.50,401.30 812.80,403.74 813.10,402.61 813.40,403.77 813.70,401.41 814.00,404.17 814.30,402.49 814.60,404.36 814.90,404.47 815.20,403.17 815.50,401.36 815.80,404.49 816.10,402.84 816.40,404.17 816.70,401.89 817.00,401.51 817.30,403.74 817.60,401.98 817.90,401.15 818.20,401.81 818.50,402.52 818.80,400.30 819.10,402.06 819.40,401.70 819.70,401.86 820.00,400.35 820.30,402.39 820.60,402.66 820.90,402.75 821.20,400.80 821.50,402.26 821.80,401.13 822.10,402.52 822.40,400.10 822.70,403.08 823.00,403.43 823.30,401.84 823.60,401.97 823.90,402.09 824.20,402.17 824.50,400.37 824.80,403.84 825.10,401.23 825.40,401.14 825.70,400.91 826.00,401.50 826.30,403.60 826.60,400.83 826.90,401.13 827.20,403.30 827.50,401.45 827.80,400.78 828.10,402.85 828.40,402.74 828.70,402.51 829.00,403.13 829.30,400.94 829.60,403.67 829.90,403.09 830.20,400.64 830.50,400.89 830.80,402.20 831.10,402.19 831.40,401.37 831.70,400.77 832.00,401.76 832.30,400.76 832.60,402.37 832.90,403.31 833.20,400.76 833.50,402.35 833.80,403.02 834.10,400.97 834.40,403.41 834.70,403.86 835.00,401.93 835.30,402.10 835.60,403.66 835.90,402.58 836.20,402.16 836.50,404.17 836.80,403.52 837.10,401.83 837.40,401.37 837.70,401.59 838.00,401.84 838.30,403.69 838.60,402.95 838.90,403.22 839.20,402.76 839.50,402.76 839.80,399.79 840.10,401.35 840.40,402.82 840.70,402.63 841.00,400.05 841.30,400.56 841.60,401.26 841.90,400.27 842.20,400.84 842.50,399.16 842.80,400.44 843.10,400.68 843.40,398.91 843.70,399.31 844.00,402.27 844.30,401.55 844.60,402.11 844.90,400.99 845.20,401.60 845.50,401.84 845.80,401.82 846.10,398.73 846.40,400.89 846.70,399.52 847.00,400.98 847.30,399.49 847.60,400.44 847.90,401.79 848.20,400.67 848.50,399.31 848.80,400.32 849.10,400.09 849.40,402.02 849.70,399.71 850.00,399.85 850.30,401.16 850.60,399.33 850.90,401.11 851.20,402.49 851.50,400.97 851.80,400.17 852.10,400.95 852.40,401.27 852.70,399.96 853.00,399.95 853.30,400.05 853.60,400.71 853.90,401.19 854.20,400.84 854.50,400.75 854.80,400.27 855.10,401.99 855.40,403.12 855.70,402.37 856.00,402.25 856.30,402.53 856.60,400.90 856.90,402.73 857.20,401.82 857.50,402.13 857.80,402.35 858.10,401.82 858.40,401.25 858.70,400.99 859.00,400.91 859.30,401.95 859.60,401.47 859.90,402.19 860.20,400.12 860.50,401.34 860.80,403.16 861.10,400.91 861.40,402.05 861.70,401.81 862.00,401.05 862.30,403.57 862.60,401.07 862.90,402.78 863.20,400.55 863.50,400.18 863.80,403.05 864.10,401.46 864.40,400.07 864.70,401.21 865.00,401.36 865.30,402.39 865.60,400.10 865.90,400.49 866.20,403.10 866.50,402.27 866.80,400.13 867.10,400.76 867.40,400.78 867.70,401.91 868.00,401.66 868.30,402.47 868.60,402.33 868.90,401.21 869.20,401.97 869.50,401.95 869.80,401.98 870.10,400.92 870.40,402.02 870.70,401.74 871.00,402.47 871.30,399.63 871.60,402.30 871.90,399.17 872.20,401.90 872.50,401.25 872.80,400.92 873.10,402.59 873.40,401.17 873.70,400.61 874.00,401.92 874.30,402.23 874.60,401.26 874.90,400.44 875.20,400.69 875.50,400.70 875.80,401.65 876.10,400.09 876.40,400.43 876.70,401.02 877.00,400.40 877.30,400.16 877.60,401.80 877.90,401.98 878.20,400.67 878.50,400.42 878.80,399.43 879.10,399.81 879.40,399.19 879.70,400.69 880.00,400.66 880.30,398.83 880.60,401.78 880.90,399.58 881.20,401.40 881.50,401.33 881.80,401.72 882.10,398.95 882.40,399.70 882.70,401.39 883.00,398.11 883.30,398.19 883.60,400.00 883.90,399.71 884.20,401.18 884.50,400.60 884.80,399.76 885.10,401.44 885.40,399.73 885.70,399.75 886.00,400.38 886.30,399.34 886.60,399.25 886.90,400.13 887.20,399.28 887.50,401.45 887.80,400.50 888.10,399.98 888.40,398.47 888.70,399.49 889.00,399.61 889.30,400.21 889.60,400.28 889.90,401.41 890.20,401.74 890.50,400.04 890.80,399.90 891.10,400.59 891.40,401.95 891.70,399.63 892.00,400.28 892.30,401.25 892.60,398.88 892.90,399.36 893.20,401.69 893.50,401.09 893.80,399.91 894.10,398.41 894.40,401.19 894.70,400.40 895.00,400.82 895.30,401.38 895.60,400.96 895.90,399.23 896.20,398.23 896.50,398.66 896.80,399.46 897.10,399.47 897.40,398.37 897.70,398.38 898.00,400.02 898.30,399.96 898.60,399.09 898.90,401.43 899.20,400.18 899.50,398.07 899.80,399.44 900.10,400.82 900.40,399.13 900.70,400.54 901.00,398.10 901.30,399.22 901.60,401.19 901.90,400.30 902.20,400.63 902.50,398.96 902.80,400.08 903.10,400.31 903.40,399.31 903.70,400.72 904.00,400.28 904.30,401.91 904.60,400.35 904.90,399.71 905.20,398.63 905.50,398.71 905.80,400.83 906.10,398.44 906.40,398.37 906.70,398.58 907.00,399.80 907.30,400.84 907.60,400.04 907.90,401.07 908.20,399.47 908.50,400.38 908.80,403.61 909.10,402.21 909.40,403.84 909.70,402.67 910.00,402.01 910.30,402.36 910.60,401.76 910.90,404.65 911.20,403.50 911.50,402.66 911.80,403.02 912.10,402.79 912.40,401.60 912.70,404.61 913.00,403.50 913.30,404.85 913.60,402.98 913.90,403.63 914.20,402.30 914.50,401.53 914.80,404.65 915.10,404.30 915.40,402.28 915.70,404.31 916.00,403.94 916.30,402.02 916.60,403.02 916.90,404.23 917.20,402.48 917.50,404.04 917.80,401.42 918.10,401.88 918.40,402.99 918.70,401.12 919.00,401.36 919.30,403.31 919.60,401.79 919.90,402.79 920.20,400.70 920.50,400.34 920.80,400.89 921.10,400.16 921.40,402.87 921.70,400.31 922.00,401.17 922.30,399.45 922.60,400.85 922.90,400.20 923.20,400.15 923.50,398.82 923.80,398.92 924.10,401.38 924.40,399.70 924.70,399.35 925.00,399.19 925.30,399.55 925.60,399.41 925.90,398.72 926.20,401.01 926.50,399.88 926.80,399.24 927.10,401.25 927.40,399.07 927.70,399.74 928.00,401.81 928.30,399.29 928.60,400.46 928.90,401.90 929.20,401.82 929.50,399.52 929.80,400.25 930.10,401.60 930.40,400.36 930.70,402.45 931.00,399.75 931.30,402.42 931.60,400.82 931.90,399.82 932.20,400.63 932.50,399.47 932.80,401.54 933.10,399.94 933.40,402.24 933.70,401.12 934.00,400.32 934.30,399.89 934.60,401.19 934.90,399.77 935.20,402.14 935.50,399.44 935.80,400.85 936.10,400.89 936.40,399.71 936.70,401.31 937.00,399.72 937.30,400.50 937.60,399.98 937.90,398.85 938.20,398.94 938.50,397.64 938.80,397.77 939.10,400.00 939.40,397.89 939.70,398.95 940.00,396.84 940.30,398.36 940.60,397.53 940.90,397.91 941.20,397.07 941.50,396.12 941.80,396.90 942.10,396.48 942.40,396.00 942.70,398.02 943.00,396.34 943.30,396.66 943.60,398.37 943.90,397.78 944.20,398.05 944.50,397.85 944.80,395.08 945.10,395.45 945.40,394.41 945.70,396.60 946.00,396.39 946.30,395.12 946.60,395.19 946.90,395.92 947.20,395.92 947.50,394.14 947.80,396.15 948.10,394.28 948.40,395.31 948.70,393.73 949.00,393.53 949.30,396.43 949.60,395.82 949.90,395.78 950.20,393.39 950.50,393.42 950.80,393.89 951.10,394.06 951.40,394.47 951.70,394.68 952.00,393.16 952.30,393.86 952.60,394.75 952.90,392.82 953.20,394.91 953.50,393.66 953.80,393.90 954.10,391.96 954.40,392.32 954.70,392.94 955.00,391.45 955.30,390.05 955.60,393.20 955.90,393.15 956.20,391.53 956.50,390.80 956.80,393.87 957.10,393.14 957.40,391.27 957.70,392.13 958.00,391.80 958.30,394.40 958.60,392.46 958.90,395.04 959.20,394.30 959.50,391.76 959.80,393.80 960.10,392.57 960.40,393.69 960.70,393.83 961.00,391.71 961.30,390.87 961.60,393.81 961.90,391.78 962.20,393.45 962.50,392.56 962.80,392.93 963.10,393.45 963.40,392.93 963.70,392.50 964.00,391.26 964.30,393.78 964.60,393.01 964.90,393.51 965.20,395.21 965.50,392.53 965.80,395.01 966.00,394.20"/><polyline fill="none" stroke="#ff0000" stroke-width="1.2" stroke-linejoin="miter" shape-rendering="crispEdges" points="155.60,385.30 156.00,379.00 156.70,373.00 157.50,375.20 158.20,347.50 159.30,329.50 159.60,345.00 160.00,334.00 160.50,359.50 161.20,367.00 162.00,344.50 162.70,353.50 163.50,347.50 164.20,352.00 165.00,333.20 165.70,344.50 166.50,343.70 167.20,355.00 168.00,364.70 168.70,368.50 169.50,361.00 170.20,337.70 171.00,344.50 171.70,355.00 172.50,358.00 173.20,364.00 174.00,374.50"/><polyline fill="none" stroke="#ff0000" stroke-width="1.2" stroke-linejoin="miter" shape-rendering="crispEdges" points="185.50,396.50 185.50,396.50 186.70,395.50 268.20,383.40 269.50,381.00 270.30,378.50 271.00,391.80"/><polyline fill="none" stroke="#ff0000" stroke-width="1.2" stroke-linejoin="miter" shape-rendering="crispEdges" points="306.30,396.00 307.00,353.00 308.60,342.00 310.00,345.00 311.00,340.00 312.00,349.00 313.00,354.00 314.00,346.00 314.40,322.00 315.60,323.00 316.00,350.00 317.00,362.00"/><polyline fill="none" stroke="#ff0000" stroke-width="1.2" stroke-linejoin="miter" shape-rendering="crispEdges" points="524.60,354.00 525.30,340.00 525.30,300.80 526.60,290.30 527.60,282.00 528.50,256.80 529.70,267.00 530.60,248.40 530.80,200.00 531.30,186.00 531.90,188.00 532.30,240.00 533.40,243.00 532.30,271.40 532.90,309.00 533.30,300.00 533.90,345.00"/><polyline fill="none" stroke="#ff0000" stroke-width="1.2" stroke-linejoin="miter" shape-rendering="crispEdges" points="562.00,386.00 562.50,380.00 563.10,372.20 564.00,350.00 565.00,336.00 566.00,326.00 567.00,310.00 567.40,300.00 567.30,193.30 568.40,189.00 569.50,180.00 570.30,147.00 570.80,213.00 571.40,180.00 572.00,210.00 572.30,88.00 572.70,203.00 573.30,180.00 573.60,302.00 574.30,240.00 575.00,302.00 575.60,194.70 576.20,302.00 576.60,230.00 577.40,211.50 578.00,314.70 578.60,260.00 579.50,193.30 579.00,262.00 580.00,206.00 580.60,300.00 581.00,320.00 582.00,350.00"/><polygon points="573.2,244 577.6,244 577.6,262 579,262 579,301 573.2,301" fill="#ff0000"/><g stroke="#000" stroke-width="1" fill="none"><rect x="101.5" y="57.5" width="865" height="382" fill="none"/><line x1="101" y1="58.5" x2="967" y2="58.5"/><line x1="102" y1="105.5" x2="107" y2="105.5"/><line x1="961" y1="105.5" x2="966" y2="105.5"/><line x1="102" y1="152.5" x2="107" y2="152.5"/><line x1="961" y1="152.5" x2="966" y2="152.5"/><line x1="102" y1="200.5" x2="107" y2="200.5"/><line x1="961" y1="200.5" x2="966" y2="200.5"/><line x1="102" y1="248.5" x2="107" y2="248.5"/><line x1="961" y1="248.5" x2="966" y2="248.5"/><line x1="102" y1="296.5" x2="107" y2="296.5"/><line x1="961" y1="296.5" x2="966" y2="296.5"/><line x1="102" y1="343.5" x2="107" y2="343.5"/><line x1="961" y1="343.5" x2="966" y2="343.5"/><line x1="102" y1="391.5" x2="107" y2="391.5"/><line x1="961" y1="391.5" x2="966" y2="391.5"/><line x1="961" y1="57.5" x2="966" y2="57.5"/><line x1="132.5" y1="437" x2="132.5" y2="439"/><line x1="132.5" y1="59" x2="132.5" y2="60"/><line x1="163.5" y1="437" x2="163.5" y2="439"/><line x1="163.5" y1="59" x2="163.5" y2="60"/><line x1="194.5" y1="437" x2="194.5" y2="439"/><line x1="194.5" y1="59" x2="194.5" y2="60"/><line x1="225.5" y1="434" x2="225.5" y2="439"/><line x1="225.5" y1="59" x2="225.5" y2="63"/><line x1="255.5" y1="437" x2="255.5" y2="439"/><line x1="255.5" y1="59" x2="255.5" y2="60"/><line x1="286.5" y1="437" x2="286.5" y2="439"/><line x1="286.5" y1="59" x2="286.5" y2="60"/><line x1="317.5" y1="437" x2="317.5" y2="439"/><line x1="317.5" y1="59" x2="317.5" y2="60"/><line x1="348.5" y1="434" x2="348.5" y2="439"/><line x1="348.5" y1="59" x2="348.5" y2="63"/><line x1="379.5" y1="437" x2="379.5" y2="439"/><line x1="379.5" y1="59" x2="379.5" y2="60"/><line x1="410.5" y1="437" x2="410.5" y2="439"/><line x1="410.5" y1="59" x2="410.5" y2="60"/><line x1="441.5" y1="437" x2="441.5" y2="439"/><line x1="441.5" y1="59" x2="441.5" y2="60"/><line x1="472.5" y1="434" x2="472.5" y2="439"/><line x1="472.5" y1="59" x2="472.5" y2="63"/><line x1="503.5" y1="437" x2="503.5" y2="439"/><line x1="503.5" y1="59" x2="503.5" y2="60"/><line x1="534.5" y1="437" x2="534.5" y2="439"/><line x1="534.5" y1="59" x2="534.5" y2="60"/><line x1="564.5" y1="437" x2="564.5" y2="439"/><line x1="564.5" y1="59" x2="564.5" y2="60"/><line x1="595.5" y1="434" x2="595.5" y2="439"/><line x1="595.5" y1="59" x2="595.5" y2="63"/><line x1="626.5" y1="437" x2="626.5" y2="439"/><line x1="626.5" y1="59" x2="626.5" y2="60"/><line x1="657.5" y1="437" x2="657.5" y2="439"/><line x1="657.5" y1="59" x2="657.5" y2="60"/><line x1="688.5" y1="437" x2="688.5" y2="439"/><line x1="688.5" y1="59" x2="688.5" y2="60"/><line x1="719.5" y1="434" x2="719.5" y2="439"/><line x1="719.5" y1="59" x2="719.5" y2="63"/><line x1="750.5" y1="437" x2="750.5" y2="439"/><line x1="750.5" y1="59" x2="750.5" y2="60"/><line x1="781.5" y1="437" x2="781.5" y2="439"/><line x1="781.5" y1="59" x2="781.5" y2="60"/><line x1="812.5" y1="437" x2="812.5" y2="439"/><line x1="812.5" y1="59" x2="812.5" y2="60"/><line x1="842.5" y1="434" x2="842.5" y2="439"/><line x1="842.5" y1="59" x2="842.5" y2="63"/><line x1="873.5" y1="437" x2="873.5" y2="439"/><line x1="873.5" y1="59" x2="873.5" y2="60"/><line x1="904.5" y1="437" x2="904.5" y2="439"/><line x1="904.5" y1="59" x2="904.5" y2="60"/><line x1="935.5" y1="437" x2="935.5" y2="439"/><line x1="935.5" y1="59" x2="935.5" y2="60"/></g><line x1="895" y1="72.5" x2="945" y2="72.5" stroke="#ff0000" stroke-width="1"/><g fill="#000" font-family="Liberation Sans, sans-serif"><text x="46.1" y="62.2" font-size="16.5" text-anchor="start" textLength="39.6" lengthAdjust="spacingAndGlyphs">1200</text><text x="46.1" y="110.2" font-size="16.5" text-anchor="start" textLength="39.6" lengthAdjust="spacingAndGlyphs">1100</text><text x="46.1" y="157.2" font-size="16.5" text-anchor="start" textLength="39.6" lengthAdjust="spacingAndGlyphs">1000</text><text x="56.3" y="205.2" font-size="16.5" text-anchor="start" textLength="29.6" lengthAdjust="spacingAndGlyphs">900</text><text x="56.3" y="253.2" font-size="16.5" text-anchor="start" textLength="29.6" lengthAdjust="spacingAndGlyphs">800</text><text x="56.3" y="301.2" font-size="16.5" text-anchor="start" textLength="29.6" lengthAdjust="spacingAndGlyphs">700</text><text x="56.3" y="348.2" font-size="16.5" text-anchor="start" textLength="29.6" lengthAdjust="spacingAndGlyphs">600</text><text x="56.3" y="396.2" font-size="16.5" text-anchor="start" textLength="29.6" lengthAdjust="spacingAndGlyphs">500</text><text x="56.3" y="444.2" font-size="16.5" text-anchor="start" textLength="29.6" lengthAdjust="spacingAndGlyphs">400</text><text x="75.6" y="463.0" font-size="16.5" text-anchor="start" textLength="46.2" lengthAdjust="spacingAndGlyphs">02-24</text><text x="199.6" y="463.0" font-size="16.5" text-anchor="start" textLength="46.2" lengthAdjust="spacingAndGlyphs">02-25</text><text x="322.6" y="463.0" font-size="16.5" text-anchor="start" textLength="46.2" lengthAdjust="spacingAndGlyphs">02-26</text><text x="446.6" y="463.0" font-size="16.5" text-anchor="start" textLength="46.2" lengthAdjust="spacingAndGlyphs">02-27</text><text x="569.6" y="463.0" font-size="16.5" text-anchor="start" textLength="46.2" lengthAdjust="spacingAndGlyphs">02-28</text><text x="693.6" y="463.0" font-size="16.5" text-anchor="start" textLength="46.2" lengthAdjust="spacingAndGlyphs">02-29</text><text x="816.6" y="463.0" font-size="16.5" text-anchor="start" textLength="46.2" lengthAdjust="spacingAndGlyphs">03-01</text><text x="940.6" y="463.0" font-size="16.5" text-anchor="start" textLength="46.2" lengthAdjust="spacingAndGlyphs">03-02</text></g>
<g fill="#000" font-family="Liberation Sans, sans-serif">
<text x="473.8" y="33.2" font-size="16.5" textLength="107.5" lengthAdjust="spacingAndGlyphs">2020-w09 CO</text>
<text x="584.4" y="36.7" font-size="12.5" textLength="6.8" lengthAdjust="spacingAndGlyphs">2</text>
<text x="814.5" y="76.6" font-size="16.5" textLength="67.4" lengthAdjust="spacingAndGlyphs">sensor-2</text>
<text x="452.1" y="490.4" font-size="16.5" textLength="159.6" lengthAdjust="spacingAndGlyphs">Date [month-mday]</text>
<g transform="translate(20,293.7) rotate(-90)">
<text x="0" y="0" font-size="16.5" textLength="24.2" lengthAdjust="spacingAndGlyphs">CO</text>
<text x="25.8" y="3.5" font-size="12" textLength="6.8" lengthAdjust="spacingAndGlyphs">2</text>
<text x="40.7" y="0" font-size="16.5" textLength="49.5" lengthAdjust="spacingAndGlyphs">[ppm]</text>
</g>
</g>
</svg>
</body></html>
